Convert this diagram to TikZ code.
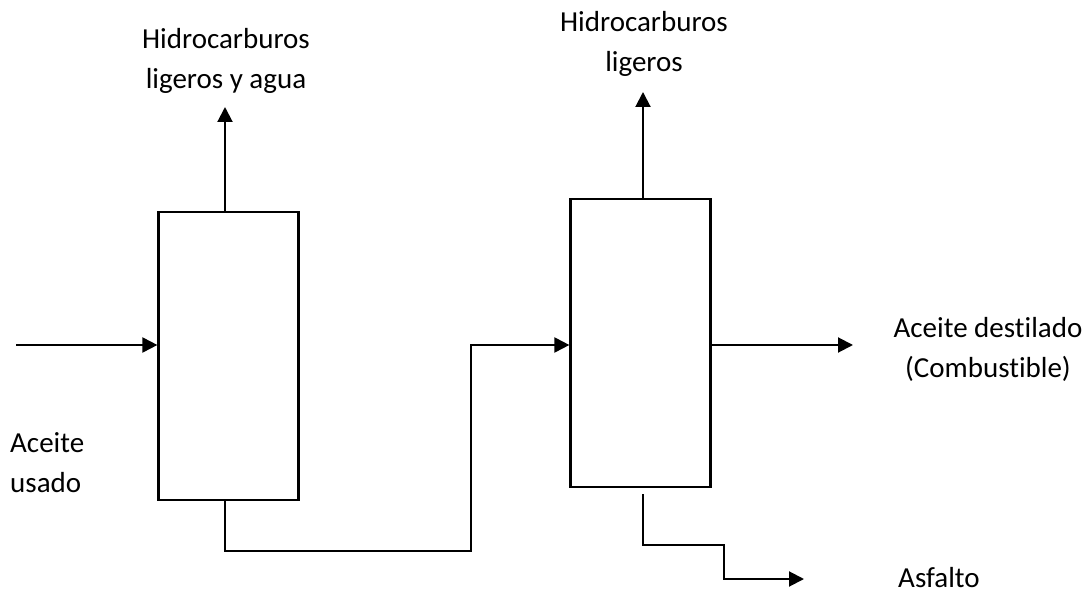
\documentclass[tikz,border=0pt]{standalone}
\usepackage{fontspec}
\setmainfont{Carlito}[Ligatures={NoCommon,NoContextual}]
\usetikzlibrary{arrows.meta}
\begin{document}
\begin{tikzpicture}[x=1pt,y=-1pt,
  unit/.style={draw,line width=2.2pt,minimum width=140pt,minimum height=288pt,inner sep=0pt},
  flow/.style={line width=2pt,-{Triangle[length=15pt,width=15pt]}},
  lbl/.style={font=\fontsize{29}{40}\selectfont,inner sep=0pt,anchor=base}]
\useasboundingbox (0,0) rectangle (1087,593);
% units
\node[unit] (u1) at (228.5,356) {};
\node[unit] (u2) at (640.5,343) {};
% labels (base anchor = baseline of the last line)
\node[lbl,align=center] (t1) at (226,89) {Hidrocarburos\\ligeros y agua};
\node[lbl,align=center] (t2) at (644,72) {Hidrocarburos\\ligeros};
\node[lbl,align=left,anchor=base west] (t3) at (10,492) {Aceite\\usado};
\node[lbl,align=center] (t4) at (988,378) {Aceite destilado\\(Combustible)};
\node[lbl,anchor=base west] (t5) at (898,587) {Asfalto};
% coordinates
\coordinate (in) at (16,345);
\coordinate (v1) at (225,107);
\coordinate (v2) at (643,92);
\coordinate (d1) at (225,551);
\coordinate (d2) at (471,551);
\coordinate (d3) at (471,345);
\coordinate (p1) at (643,494);
\coordinate (p2) at (643,545);
\coordinate (p3) at (724,545);
\coordinate (p4) at (724,579);
\coordinate (pe) at (804,579);
\coordinate (oe) at (853,345);
% connectors
\draw[flow] (in) -- (in -| u1.west);
\draw[flow] (u1.north -| v1) -- (v1);
\draw[flow] (u2.north -| v2) -- (v2);
\draw[flow] (u1.south -| d1) -- (d1) -- (d2) -- (d3) -- (d3 -| u2.west);
\draw[flow] (oe -| u2.east) -- (oe);
\draw[flow] (p1) -- (p2) -- (p3) -- (p4) -- (pe);
\end{tikzpicture}
\end{document}
